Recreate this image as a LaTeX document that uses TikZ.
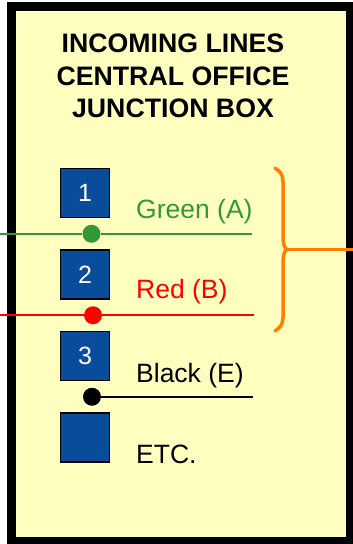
\documentclass[tikz,border=0pt]{standalone}
\usepackage{fontspec}
\setmainfont{Liberation Sans}
\usetikzlibrary{calc}

\definecolor{boxyellow}{RGB}{255,255,192}
\definecolor{pinblue}{RGB}{10,76,156}
\definecolor{wiregreen}{RGB}{51,153,51}
\definecolor{wirered}{RGB}{255,0,0}
\definecolor{braceorange}{RGB}{255,128,0}

\begin{document}
\begin{tikzpicture}[x=1pt, y=1pt, node distance=81.5pt,
  pin/.style={rectangle, draw=black, fill=pinblue, line width=1.5pt, minimum size=49pt, text=white, font=\fontsize{25}{28}\selectfont},
  dot/.style={circle, fill, inner sep=0pt, minimum size=18pt},
  lbl/.style={anchor=base west, inner sep=0pt, font=\fontsize{26.5}{30}\selectfont},
  wire/.style={line width=1.6pt}]
  \useasboundingbox (0,0) rectangle (353,-544);

  % the box itself
  \draw[line width=9pt, fill=boxyellow] (11.5,-6.5) rectangle (350,-541);
  \node[align=center, font=\bfseries\fontsize{26.7}{32.5}\selectfont] (title) at (173,-76) {INCOMING LINES\\CENTRAL OFFICE\\JUNCTION BOX};

  % terminals
  \node[pin] (p1) at (85,-193) {1};
  \node[pin, below of=p1] (p2) {2};
  \node[pin, below of=p2] (p3) {3};
  \node[pin, below of=p3] (p4) {};

  \node[dot, wiregreen] (ga) at ($(p1)!0.5!(p2)+(6.5,0)$) {};
  \node[dot, wirered] (rb) at ($(p2)!0.5!(p3)+(8,0)$) {};
  \node[dot, black] (be) at ($(p3)!0.5!(p4)+(7,0)$) {};

  \coordinate (gin) at (0,0 |- ga);
  \coordinate (gout) at (252,0 |- ga);
  \coordinate (rin) at (0,0 |- rb);
  \coordinate (rout) at (254,0 |- rb);
  \coordinate (eout) at (253,0 |- be);

  \draw[wire, wiregreen] (gin) -- (ga) -- (gout);
  \draw[wire, wirered] (rin) -- (rb) -- (rout);
  \draw[wire, black] (be) -- (eout);

  \node[lbl, text=wiregreen] (lga) at (136,-218) {Green (A)};
  \node[lbl, text=wirered] (lrb) at (136,-298) {Red (B)};
  \node[lbl] (lbe) at (136,-382) {Black (E)};
  \node[lbl] (letc) at (136,-463) {ETC.};

  % brace to the outside
  \coordinate (tip) at (287,-249.5);
  \coordinate (bout) at (353,-249.5);
  \draw[braceorange, line width=3.5pt, line cap=round]
    (275,-168) .. controls (281,-172) and (283,-175) .. (283,-182) -- (283,-235)
    .. controls (283,-243) and (284,-248) .. (tip)
    .. controls (284,-251) and (283,-256) .. (283,-264) -- (283,-317)
    .. controls (283,-324) and (281,-327) .. (275,-331);
  \draw[braceorange, line width=3.5pt] (tip) -- (bout);
\end{tikzpicture}
\end{document}
